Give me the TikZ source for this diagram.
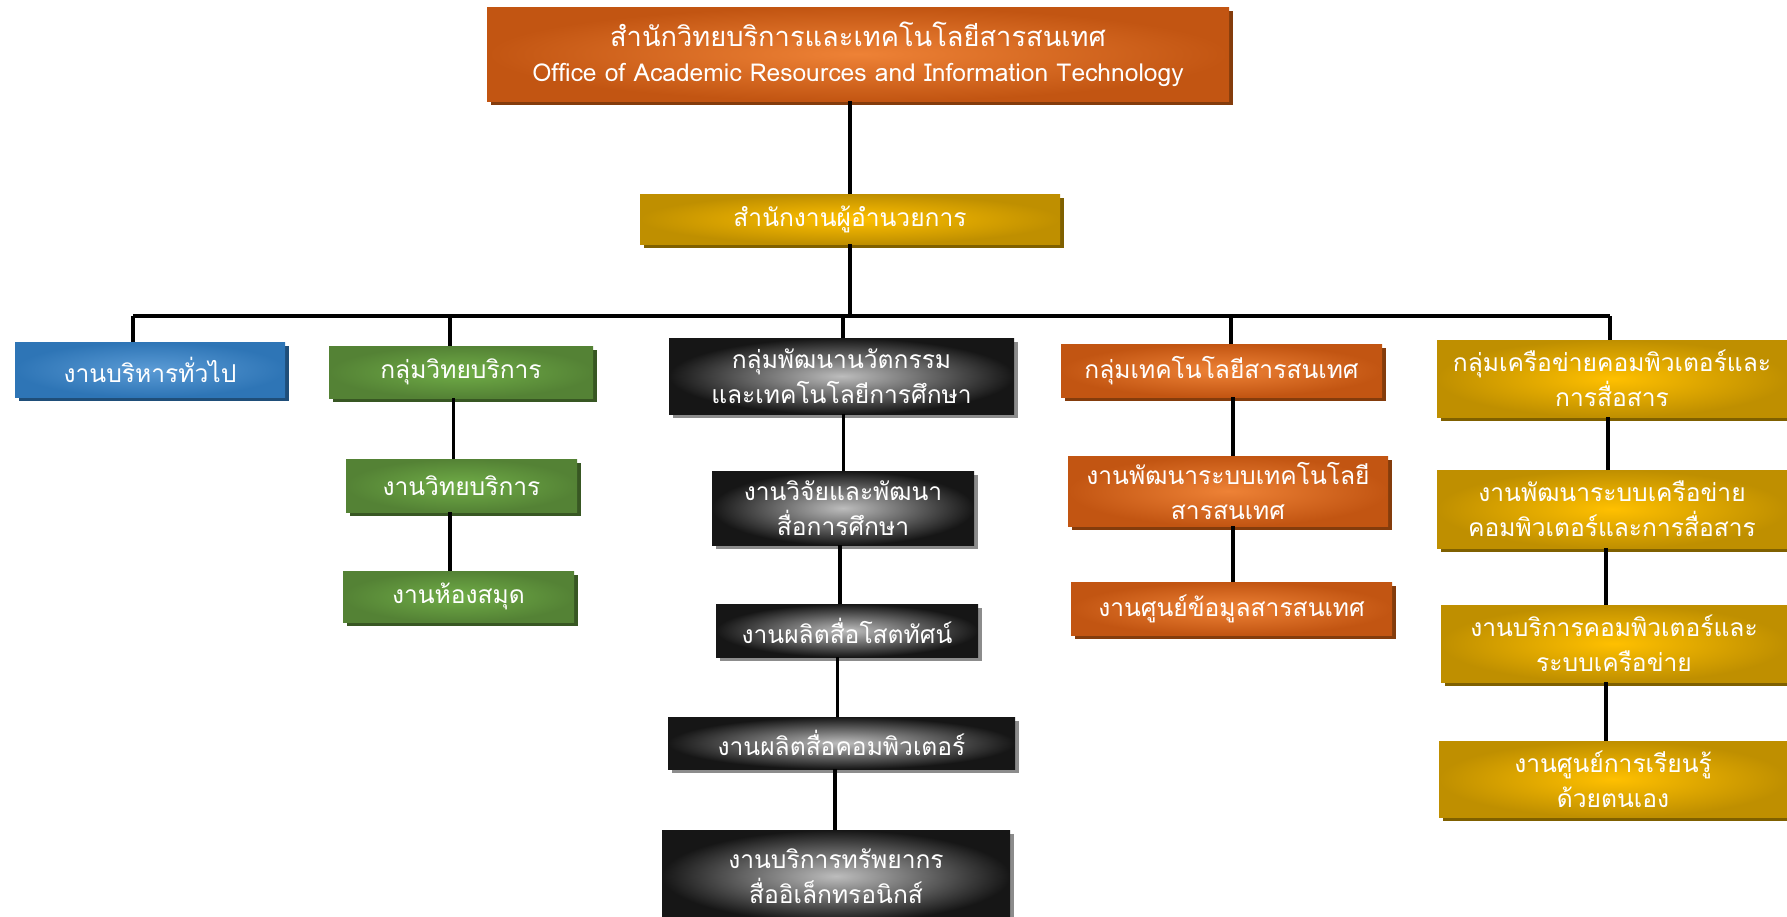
\documentclass[tikz,border=0pt]{standalone}
\usepackage{fontspec}
\newfontfamily\thaifont[Script=Thai]{Loma}
\usetikzlibrary{shadows}

\definecolor{orgIn}{HTML}{EE8236}
\definecolor{orgOut}{HTML}{C25512}
\definecolor{orgSh}{HTML}{843C0C}
\definecolor{gldIn}{HTML}{FFC000}
\definecolor{gldOut}{HTML}{BF8F00}
\definecolor{gldSh}{HTML}{7F6000}
\definecolor{grnIn}{HTML}{70AD47}
\definecolor{grnOut}{HTML}{548235}
\definecolor{grnSh}{HTML}{385723}
\definecolor{bluIn}{HTML}{5B9BD5}
\definecolor{bluOut}{HTML}{2E75B6}
\definecolor{bluSh}{HTML}{1F4E79}
\definecolor{blkIn}{HTML}{BDBDBD}
\definecolor{blkOut}{HTML}{161616}
\definecolor{blkSh}{HTML}{8C8C8C}

\newcommand*{\busY}{-6.32}

\tikzset{
    unit/.style n args={3}{
        inner sep=0pt, align=center, text=white,
        font=\thaifont\fontsize{14}{20}\selectfont,
        inner color=#1, outer color=#2,
        copy shadow={fill=#3, draw=none, shadow xshift=0.08cm, shadow yshift=-0.08cm}
    },
    orgbox/.style={unit={orgIn}{orgOut}{orgSh}},
    gldbox/.style={unit={gldIn}{gldOut}{gldSh}},
    grnbox/.style={unit={grnIn}{grnOut}{grnSh}},
    blubox/.style={unit={bluIn}{bluOut}{bluSh}},
    blkbox/.style={unit={blkIn}{blkOut}{blkSh}},
    link/.style={line width=2.2pt, black}
}

\begin{document}
\begin{tikzpicture}
    \clip (0,0) rectangle (35.74,-18.32);

    % top levels
    \node [orgbox, minimum width=14.84cm, minimum height=1.88cm] (office) at (17.16,-1.08)
        {{\fontsize{15.5}{20}\selectfont สำนักวิทยบริการและเทคโนโลยีสารสนเทศ}\\Office of Academic Resources and Information Technology};
    \node [gldbox, minimum width=8.4cm, minimum height=1.0cm] (director) at (17.0,-4.38)
        {สำนักงานผู้อำนวยการ};

    % groups
    \node [blubox, minimum width=5.4cm, minimum height=1.1cm] (general) at (3.0,-7.39)
        {งานบริหารทั่วไป};
    \node [grnbox, minimum width=5.28cm, minimum height=1.04cm] (acad) at (9.22,-7.44)
        {กลุ่มวิทยบริการ};
    \node [blkbox, minimum width=6.9cm, minimum height=1.52cm] (inno) at (16.83,-7.52)
        {กลุ่มพัฒนานวัตกรรม\\และเทคโนโลยีการศึกษา};
    \node [orgbox, minimum width=6.42cm, minimum height=1.06cm] (it) at (24.43,-7.41)
        {กลุ่มเทคโนโลยีสารสนเทศ};
    \node [gldbox, minimum width=7.0cm, minimum height=1.54cm] (net) at (32.24,-7.57)
        {กลุ่มเครือข่ายคอมพิวเตอร์และ\\การสื่อสาร};

    % sections
    \node [grnbox, minimum width=4.62cm, minimum height=1.06cm] (acadA) at (9.23,-9.71)
        {งานวิทยบริการ};
    \node [grnbox, minimum width=4.62cm, minimum height=1.02cm] (acadB) at (9.17,-11.93)
        {งานห้องสมุด};

    \node [blkbox, minimum width=5.24cm, minimum height=1.48cm] (innoA) at (16.86,-10.16)
        {งานวิจัยและพัฒนา\\สื่อการศึกษา};
    \node [blkbox, minimum width=5.24cm, minimum height=1.06cm] (innoB) at (16.94,-12.61)
        {งานผลิตสื่อโสตทัศน์};
    \node [blkbox, minimum width=6.94cm, minimum height=1.04cm] (innoC) at (16.83,-14.86)
        {งานผลิตสื่อคอมพิวเตอร์};
    \node [blkbox, minimum width=6.96cm, minimum height=1.84cm] (innoD) at (16.72,-17.52)
        {งานบริการทรัพยากร\\สื่ออิเล็กทรอนิกส์};

    \node [orgbox, minimum width=6.4cm, minimum height=1.4cm] (itA) at (24.56,-9.82)
        {งานพัฒนาระบบเทคโนโลยี\\สารสนเทศ};
    \node [orgbox, minimum width=6.42cm, minimum height=1.06cm] (itB) at (24.63,-12.17)
        {งานศูนย์ข้อมูลสารสนเทศ};

    \node [gldbox, minimum width=7.0cm, minimum height=1.56cm] (netA) at (32.24,-10.18)
        {งานพัฒนาระบบเครือข่าย\\คอมพิวเตอร์และการสื่อสาร};
    \node [gldbox, minimum width=6.92cm, minimum height=1.54cm] (netB) at (32.28,-12.87)
        {งานบริการคอมพิวเตอร์และ\\ระบบเครือข่าย};
    \node [gldbox, minimum width=6.96cm, minimum height=1.52cm] (netC) at (32.26,-15.58)
        {งานศูนย์การเรียนรู้\\ด้วยตนเอง};

    % connectors
    \draw [link] (director.north) -- (director.north |- office.south);
    \coordinate (busL) at (2.66,\busY);
    \coordinate (busR) at (32.2,\busY);
    \draw [link] (director.south) -- (director.south |- busL);
    \draw [link] (busL) -- (busR);
    \foreach \n/\x in {general/2.66, acad/9.0, inno/16.86, it/24.62, net/32.2} {
        \draw [link] (\x,\busY) -- (\x,\busY |- \n.north);
    }
    \foreach \a/\b/\x in {acad/acadA/9.07, acadA/acadB/9.0, inno/innoA/16.87, innoA/innoB/16.8,
                          innoB/innoC/16.75, innoC/innoD/16.7, it/itA/24.66, itA/itB/24.66,
                          net/netA/32.16, netA/netB/32.12, netB/netC/32.12} {
        \draw [link] (\x,0 |- \a.south) -- (\x,0 |- \b.north);
    }
\end{tikzpicture}
\end{document}
